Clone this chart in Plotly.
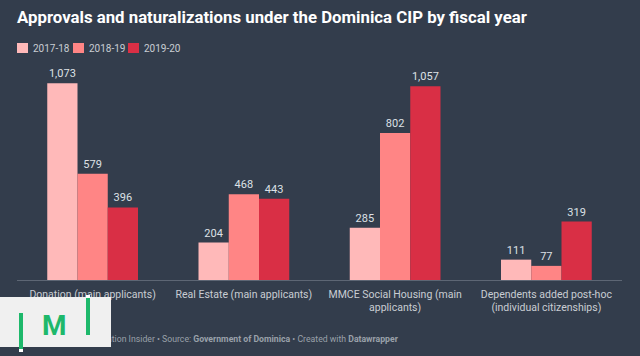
import plotly.graph_objects as go

categories = ["Donation (main applicants)", "Real Estate (main applicants)",
              "MMCE Social Housing (main<br>applicants)",
              "Dependents added post-hoc<br>(individual citizenships)"]
series_names = ["2017-18", "2018-19", "2019-20"]
v_2017_18 = [1073, 204, 285, 111]
v_2018_19 = [579, 468, 802, 77]
v_2019_20 = [396, 443, 1057, 319]
colors = ["#ffb9b9", "#ff8585", "#d92f45"]

W, H = 640, 356
ML, MR, MT, MB = 17, 18, 60, 76
BG = "#333d4c"

def px(x):
    return (x - ML) / (W - ML - MR)

def py(y):
    return (H - MB - y) / (H - MT - MB)

fig = go.Figure()
for name, vals, c in zip(series_names, [v_2017_18, v_2018_19, v_2019_20], colors):
    fig.add_trace(go.Bar(
        x=categories, y=vals, name=name, marker=dict(color=c, line=dict(width=0)),
        texttemplate="%{y:,}", textposition="outside", cliponaxis=False,
        textfont=dict(size=11, color="#dde1e6", family="Roboto"),
        showlegend=False,
    ))

ann = []
# Title
ann.append(dict(x=px(15), y=py(17), xref="paper", yref="paper", xanchor="left", yanchor="middle",
                text="<b>Approvals and naturalizations under the Dominica CIP by fiscal year</b>",
                showarrow=False, font=dict(size=16.8, color="#ffffff", family="Roboto")))
# Legend
shapes = []
leg_x = [17, 73, 128]
for lx, name, c in zip(leg_x, series_names, colors):
    shapes.append(dict(type="rect", xref="paper", yref="paper", x0=px(lx), x1=px(lx + 11),
                       y0=py(53), y1=py(43), fillcolor=c, line=dict(width=0)))
    ann.append(dict(x=px(lx + 14), y=py(48), xref="paper", yref="paper", xanchor="left",
                    yanchor="middle", text=name, showarrow=False,
                    font=dict(size=10, color="#c9cdd3", family="Roboto")))
# Footer
ann.append(dict(x=px(401), y=py(339), xref="paper", yref="paper", xanchor="right", yanchor="middle",
                text="Chart: Investment Migration Insider • Source: <b>Government of Dominica</b> • Created with <b>Datawrapper</b>",
                showarrow=False, font=dict(size=8.7, color="#9aa1aa", family="Roboto")))
# Logo overlay
def block(x0, x1, y0, y1, color, text=" ", size=1, fcolor=None):
    return dict(x=px((x0 + x1) / 2), y=py((y0 + y1) / 2), xref="paper", yref="paper",
                xanchor="center", yanchor="middle", width=x1 - x0, height=y1 - y0,
                bgcolor=color, borderpad=0, borderwidth=0, text=text, showarrow=False,
                font=dict(size=size, color=fcolor or color, family="Roboto"))
ann.append(block(0, 111, 297, 347, "#f0f0f0"))
ann.append(dict(x=px(54.5), y=py(325), xref="paper", yref="paper", xanchor="center", yanchor="middle",
                text="<b>M</b>", showarrow=False, font=dict(size=28, color="#1eb86b", family="Roboto")))
ann.append(block(19, 23, 313, 349, "#1eb86b"))
ann.append(block(19, 23, 349, 352, "#ffffff"))
ann.append(block(86, 90, 298, 335, "#1eb86b"))
ann.append(block(86, 90, 295, 298, "#ffffff"))

fig.update_layout(
    width=W, height=H, margin=dict(l=ML, r=MR, t=MT, b=MB),
    paper_bgcolor=BG, plot_bgcolor=BG,
    barmode="group", bargap=0.4, bargroupgap=0,
    annotations=ann, shapes=shapes,
    xaxis=dict(showline=True, linecolor="#5d6674", linewidth=1, ticks="", showgrid=False,
               ticklabelstandoff=4,
               tickfont=dict(size=10.5, color="#c9cdd3", family="Roboto"), fixedrange=True),
    yaxis=dict(range=[0, 1200], visible=False, showgrid=False, fixedrange=True),
    font=dict(family="Roboto"),
)
fig.write_html("out.html", config={"displayModeBar": False},
               post_script="document.body.style.margin='0';document.body.style.background='#333d4c';")
